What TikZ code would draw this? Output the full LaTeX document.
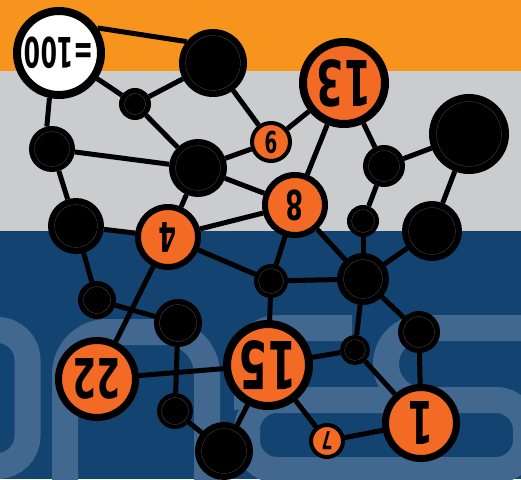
\documentclass[tikz,border=0pt]{standalone}
\usepackage{fontspec}
\usepackage{graphicx}
\newfontfamily\numfont{DejaVu Sans}
\definecolor{bandorange}{RGB}{247,148,30}
\definecolor{bandgray}{RGB}{203,204,206}
\definecolor{bandblue}{RGB}{19,67,112}
\definecolor{glyphblue}{RGB}{66,104,143}
\definecolor{nodeorange}{RGB}{242,106,36}
\definecolor{ringgray}{RGB}{64,64,64}
% upside-down condensed bold numerals
\newcommand{\numtext}[3][0.62]{\rotatebox{180}{\scalebox{#1}[1]{\fontsize{#2}{#2}\selectfont\numfont\bfseries #3}}}
\pgfdeclarelayer{bands}
\pgfdeclarelayer{links}
\pgfsetlayers{bands,links,main}
\tikzset{
  link/.style={line width=5pt, draw=black},
  glyph/.style={line width=26pt, draw=glyphblue},
  blob/.style 2 args={circle, inner sep=0pt, fill=black, draw=black,
    line width=#2, minimum size=2*#1-#2,
    path picture={\draw[ringgray, line width=0.5pt]
      (path picture bounding box.center) circle[radius=#1pt-#2pt-0.5pt];}},
  disc/.style 2 args={circle, inner sep=0pt, fill=nodeorange, draw=black,
    line width=#2, minimum size=2*#1-#2},
}
\begin{document}
\begin{tikzpicture}[x=1pt, y=-1pt]
\useasboundingbox (0,0) rectangle (521,479);

% coloured bands and the large faded lettering
\begin{pgfonlayer}{bands}
  \fill[bandorange] (0,0) rectangle (521,71);
  \fill[bandgray] (0,71) rectangle (521,231);
  \fill[bandblue] (0,231) rectangle (521,479);
  \begin{scope}
    \clip (0,231) rectangle (521,479);
    \draw[glyph, rounded corners=30] (-40,330) -- (27.5,330) -- (27.5,466) -- (-40,466);
    \draw[glyph, rounded corners=42] (65,500) -- (65,332) -- (207,332) -- (207,500);
    \draw[glyph, rounded corners=30] (247,400) rectangle (526,470);
    \draw[glyph, rounded corners=30] (247,410) -- (247,328) -- (352,328);
    \draw[glyph, rounded corners=36] (540,328) -- (386,328) -- (386,400) -- (420,400);
  \end{scope}
\end{pgfonlayer}

% nodes
\node[circle, inner sep=0pt, fill=white, draw=black, line width=8pt,
      minimum size=84pt] (n100) at (59,53) {\numtext[0.56]{42}{=100}};
\node[blob={34}{6}] (b1) at (213,63) {};
\node[blob={16}{5}] (b2) at (135,104) {};
\node[blob={23}{5}] (b3) at (52,149) {};
\node[blob={29}{6}] (b4) at (198,168) {};
\node[blob={28}{6}] (b5) at (76,226) {};
\node[disc={33}{6}] (o4) at (168,237) {\numtext{41}{4}};
\node[disc={21}{4}] (o9) at (271,142) {\numtext{30}{9}};
\node[disc={45}{8}] (o13) at (344,83) {\numtext{63}{13}};
\node[blob={21}{5}] (b6) at (384,166) {};
\node[blob={40}{7}] (b7) at (469,134) {};
\node[disc={33}{6}] (o8) at (295,205) {\numtext{41}{8}};
\node[blob={16}{4}] (b8) at (363,221) {};
\node[blob={30}{6}] (b9) at (432,231) {};
\node[blob={17}{4}] (b10) at (271,281) {};
\node[blob={26}{6}] (b11) at (363,279) {};
\node[blob={19}{5}] (b12) at (97,300) {};
\node[blob={24}{5}] (b13) at (178,323) {};
\node[blob={21}{5}] (b14) at (419,332) {};
\node[disc={42}{7}] (o22) at (97,379) {\numtext{55}{22}};
\node[disc={45}{8}] (o15) at (268,365) {\numtext{66}{15}};
\node[blob={15}{4}] (b15) at (355,350) {};
\node[blob={18}{4}] (b16) at (175,411) {};
\node[blob={29}{6}] (b17) at (224,451) {};
\node[disc={18}{4}] (o7) at (327,441) {\numtext{25}{7}};
\node[disc={39}{7}] (o1) at (421,423) {\numtext{59}{1}};

% connectors
\begin{pgfonlayer}{links}
  \draw[link] (n100.33) -- (b1.141);
  \draw[link] (n100) -- (b2);
  \draw[link] (n100.258) -- (b3.103);
  \draw[link] (b2) -- (b1);
  \draw[link] (b2) -- (b4);
  \draw[link] (b1) -- (o9);
  \draw[link] (b3) -- (b4);
  \draw[link] (b3) -- (b5);
  \draw[link] (b4) -- (o9);
  \draw[link] (b4) -- (o8);
  \draw[link] (b4) -- (o4);
  \draw[link] (o9) -- (o13);
  \draw[link] (o13) -- (o8);
  \draw[link] (o13) -- (b6);
  \draw[link] (b6) -- (b7);
  \draw[link] (b6) -- (b8);
  \draw[link] (b7) -- (b9);
  \draw[link] (o8) -- (o4);
  \draw[link] (b5) -- (o4);
  \draw[link] (b5) -- (b12);
  \draw[link] (o4) -- (b10);
  \draw[link] (o4) -- (o22);
  \draw[link] (o8) -- (b10);
  \draw[link] (o8) -- (b11);
  \draw[link] (b8) -- (b11);
  \draw[link] (b9) -- (b11);
  \draw[link] (b10) -- (b11);
  \draw[link] (b10) -- (o15);
  \draw[link] (b11) -- (b15);
  \draw[link] (b11) -- (b14);
  \draw[link] (b14) -- (o1);
  \draw[link] (b15) -- (o15);
  \draw[link] (b15) -- (o1);
  \draw[link] (o15) -- (o7);
  \draw[link] (o7) -- (o1);
  \draw[link] (o15) -- (b17);
  \draw[link] (o15) -- (o22);
  \draw[link] (b12) -- (b13);
  \draw[link] (b13) -- (b16);
  \draw[link] (b16) -- (b17);
\end{pgfonlayer}
\end{tikzpicture}
\end{document}
